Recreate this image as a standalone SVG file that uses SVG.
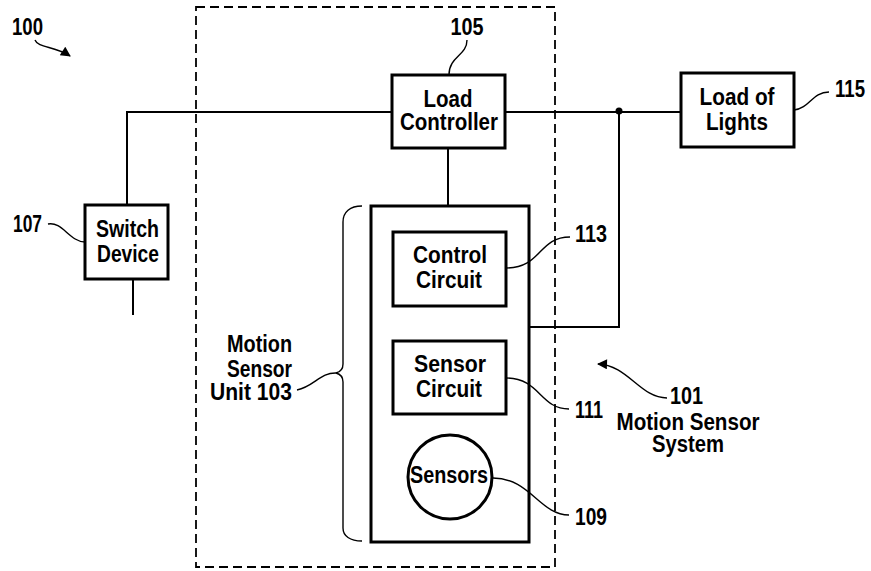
<svg xmlns="http://www.w3.org/2000/svg" width="871" height="571" viewBox="0 0 871 571">
<style>
.box{fill:#fff;stroke:#000;stroke-width:3}
.ln{fill:none;stroke:#000;stroke-width:2}
.ld{fill:none;stroke:#000;stroke-width:1.4}
.dash{fill:none;stroke:#000;stroke-width:1.8;stroke-dasharray:9 5}
text{font-family:"Liberation Sans",Arial,sans-serif;font-weight:bold;font-size:23px;fill:#000}
.c{text-anchor:middle}
.e{text-anchor:end}
</style>
<defs>
<marker id="ah" viewBox="0 0 10 10" refX="9" refY="5" markerWidth="12" markerHeight="10" markerUnits="userSpaceOnUse" orient="auto">
<path d="M0 0 L10 5 L0 10 z" fill="#000"/>
</marker>
</defs>
<rect width="871" height="571" fill="#fff"/>
<rect id="system-boundary" class="dash" x="196" y="7" width="359" height="560"/>
<g id="connectors">
<path class="ln" d="M127 205 V112 H392"/>
<path class="ln" d="M505 112 H681"/>
<path class="ln" d="M133 279 V315"/>
<path class="ln" d="M448 148 V206"/>
<path class="ln" d="M449 306 V341"/>
<path class="ln" d="M619 111 V327 H529"/>
<circle cx="619" cy="111" r="3.5" fill="#000"/>
</g>
<g id="brace">
<path class="ld" d="M362 206 C350 206 343 212 343 222 V364 C343 370 340 372 336 373 C340 374 343 376 343 382 V528 C343 536 350 541 362 541"/>
</g>
<g id="load-controller">
<rect class="box" x="392" y="75" width="113" height="73"/>
<text class="c" x="448" y="107" textLength="49" lengthAdjust="spacingAndGlyphs">Load</text>
<text class="c" x="449" y="130" textLength="98" lengthAdjust="spacingAndGlyphs">Controller</text>
</g>
<g id="load-of-lights">
<rect class="box" x="681" y="73" width="113" height="74"/>
<text class="c" x="737" y="105" textLength="75" lengthAdjust="spacingAndGlyphs">Load of</text>
<text class="c" x="737" y="130" textLength="62" lengthAdjust="spacingAndGlyphs">Lights</text>
</g>
<g id="switch-device">
<rect class="box" x="85" y="205" width="83" height="74"/>
<text class="c" x="127.5" y="237" textLength="63" lengthAdjust="spacingAndGlyphs">Switch</text>
<text class="c" x="128" y="262" textLength="62" lengthAdjust="spacingAndGlyphs">Device</text>
</g>
<g id="motion-sensor-unit">
<rect class="box" x="371" y="206" width="158" height="336"/>
</g>
<g id="control-circuit">
<rect class="box" x="393" y="232" width="113" height="74"/>
<text class="c" x="450" y="263" textLength="74" lengthAdjust="spacingAndGlyphs">Control</text>
<text class="c" x="449" y="288" textLength="66" lengthAdjust="spacingAndGlyphs">Circuit</text>
</g>
<g id="sensor-circuit">
<rect class="box" x="393" y="341" width="113" height="73"/>
<text class="c" x="450" y="372" textLength="72" lengthAdjust="spacingAndGlyphs">Sensor</text>
<text class="c" x="449" y="397" textLength="66" lengthAdjust="spacingAndGlyphs">Circuit</text>
</g>
<g id="sensors">
<circle cx="450" cy="477" r="42" fill="#fff" stroke="#000" stroke-width="3"/>
<text class="c" x="449" y="483" textLength="78" lengthAdjust="spacingAndGlyphs">Sensors</text>
</g>
<g id="labels">
<text x="12" y="35" textLength="31" lengthAdjust="spacingAndGlyphs">100</text>
<path class="ld" d="M35 40 C38 48 55 46 70 56" marker-end="url(#ah)"/>
<text class="c" x="467" y="35" textLength="33" lengthAdjust="spacingAndGlyphs">105</text>
<path class="ld" d="M467 40 C467 56 449 56 449 75"/>
<text x="835" y="97" textLength="30" lengthAdjust="spacingAndGlyphs">115</text>
<path class="ld" d="M794 110 C810 108 812 92 829 92"/>
<text x="13" y="232" textLength="29" lengthAdjust="spacingAndGlyphs">107</text>
<path class="ld" d="M48 224 C62 221 70 242 85 242"/>
<text x="575" y="242" textLength="32" lengthAdjust="spacingAndGlyphs">113</text>
<path class="ld" d="M506 268 C542 268 538 237 570 237"/>
<text x="575" y="418" textLength="28" lengthAdjust="spacingAndGlyphs">111</text>
<path class="ld" d="M506 378 C540 378 540 409 569 409"/>
<text x="575" y="525" textLength="32" lengthAdjust="spacingAndGlyphs">109</text>
<path class="ld" d="M493 478 C530 478 540 515 569 515"/>
<text class="e" x="292" y="352" textLength="65" lengthAdjust="spacingAndGlyphs">Motion</text>
<text class="e" x="292" y="377" textLength="65" lengthAdjust="spacingAndGlyphs">Sensor</text>
<text class="e" x="292" y="400" textLength="82" lengthAdjust="spacingAndGlyphs">Unit 103</text>
<path class="ld" d="M297 390 C315 386 320 372 337 373"/>
<text x="670" y="404" textLength="33" lengthAdjust="spacingAndGlyphs">101</text>
<text class="c" x="688" y="430" textLength="143" lengthAdjust="spacingAndGlyphs">Motion Sensor</text>
<text class="c" x="688" y="452" textLength="72" lengthAdjust="spacingAndGlyphs">System</text>
<path class="ld" d="M667 398 C640 398 628 365 598 364" marker-end="url(#ah)"/>
</g>
</svg>
